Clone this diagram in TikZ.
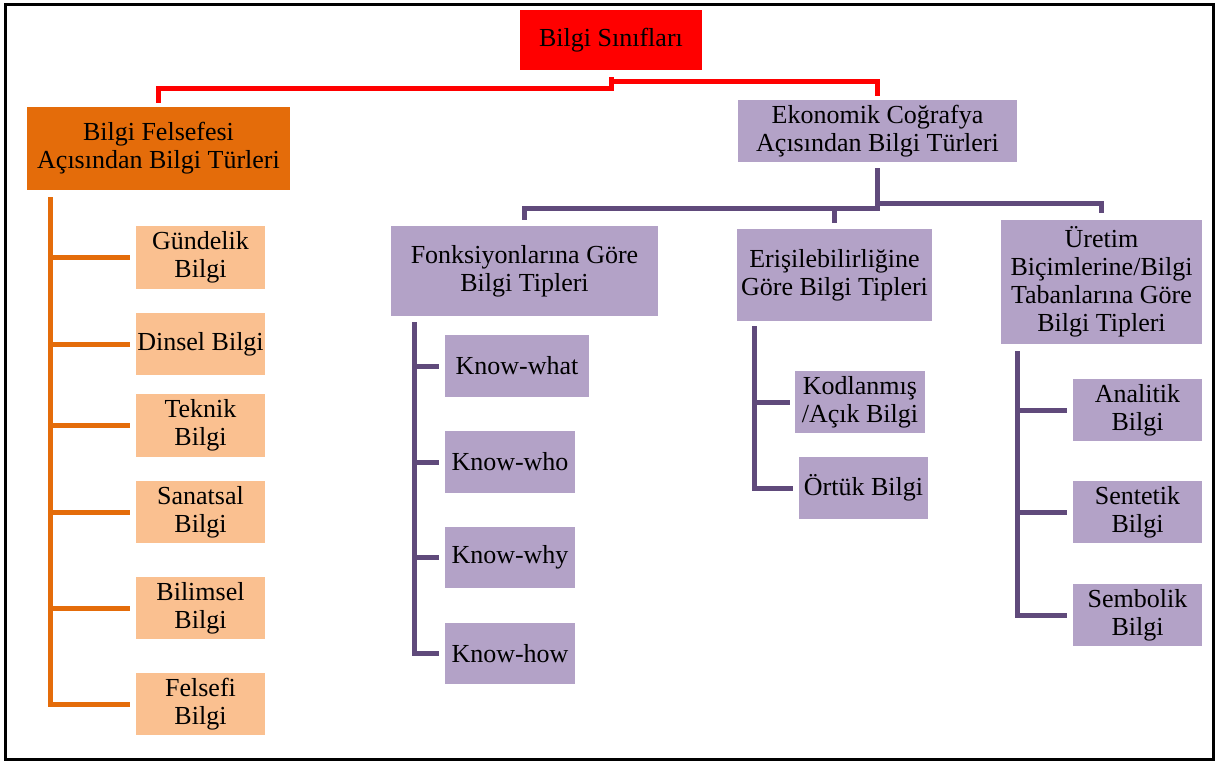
\documentclass[tikz,border=0pt]{standalone}
\usepackage{fontspec}
\setmainfont{Liberation Serif}
\usetikzlibrary{calc}
\definecolor{cred}{HTML}{FF0000}
\definecolor{corange}{HTML}{E46C0A}
\definecolor{cpeach}{HTML}{FAC090}
\definecolor{clav}{HTML}{B3A2C7}
\definecolor{cpurp}{HTML}{604A7B}
\tikzset{
  bx/.style={rectangle, inner sep=0pt, align=center, font=\fontsize{26}{28}\selectfont, text=black},
  redline/.style={draw=cred, line width=5pt},
  orline/.style={draw=corange, line width=5pt},
  purline/.style={draw=cpurp, line width=5pt},
}
\begin{document}
\begin{tikzpicture}[x=1pt,y=-1pt]
\useasboundingbox (0,0) rectangle (1219,763);
\fill[white] (0,0) rectangle (1219,763);
\draw[black, line width=3pt] (5.5,4.5) rectangle (1213,759);

% top level
\node[bx, fill=cred, minimum width=182, minimum height=60] (root) at (611,40) {Bilgi Sınıfları};
\node[bx, fill=corange, minimum width=263, minimum height=83] (bfel) at (158.5,148.5) {Bilgi Felsefesi\\Açısından Bilgi Türleri};
\node[bx, fill=clav, minimum width=279, minimum height=62] (eko) at (877.5,131) {Ekonomik Coğrafya\\Açısından Bilgi Türleri};

% left children
\node[bx, fill=cpeach, minimum width=129, minimum height=63] (gund) at (200.5,257.5) {Gündelik\\Bilgi};
\node[bx, fill=cpeach, minimum width=129, minimum height=62] (dins) at (200.5,344) {Dinsel Bilgi};
\node[bx, fill=cpeach, minimum width=129, minimum height=63] (tekn) at (200.5,425.5) {Teknik\\Bilgi};
\node[bx, fill=cpeach, minimum width=129, minimum height=62] (sana) at (200.5,512) {Sanatsal\\Bilgi};
\node[bx, fill=cpeach, minimum width=129, minimum height=62] (bili) at (200.5,608) {Bilimsel\\Bilgi};
\node[bx, fill=cpeach, minimum width=129, minimum height=62] (fels) at (200.5,704) {Felsefi\\Bilgi};

% second level right
\node[bx, fill=clav, minimum width=267, minimum height=90] (fonk) at (524.5,271) {Fonksiyonlarına Göre\\Bilgi Tipleri};
\node[bx, fill=clav, minimum width=195, minimum height=92] (eris) at (834.5,275) {Erişilebilirliğine\\Göre Bilgi Tipleri};
\node[bx, fill=clav, minimum width=201, minimum height=124] (uret) at (1101.5,282) {Üretim\\Biçimlerine/Bilgi\\Tabanlarına Göre\\Bilgi Tipleri};

% know boxes
\node[bx, fill=clav, minimum width=144, minimum height=62] (kw1) at (517,366) {Know-what};
\node[bx, fill=clav, minimum width=130, minimum height=62] (kw2) at (510,462) {Know-who};
\node[bx, fill=clav, minimum width=130, minimum height=61] (kw3) at (510,557.5) {Know-why};
\node[bx, fill=clav, minimum width=130, minimum height=61] (kw4) at (510,653.5) {Know-how};

% erisilebilirlik
\node[bx, fill=clav, minimum width=130, minimum height=62] (kod) at (860,402) {Kodlanmış\\/Açık Bilgi};
\node[bx, fill=clav, minimum width=129, minimum height=62] (ortu) at (863.5,488) {Örtük Bilgi};

% uretim
\node[bx, fill=clav, minimum width=129, minimum height=62] (anal) at (1137.5,410) {Analitik\\Bilgi};
\node[bx, fill=clav, minimum width=129, minimum height=62] (sent) at (1137.5,512) {Sentetik\\Bilgi};
\node[bx, fill=clav, minimum width=129, minimum height=62] (semb) at (1137.5,615) {Sembolik\\Bilgi};

% red connectors
\draw[redline] ($(root.south)+(0.5,7)$) -- ++(0,11) -| ($(bfel.north)+(0,-4)$);
\draw[redline] ($(root.south)+(0.5,7)$) -- ++(0,4) -| ($(eko.north)+(0,-4)$);

% purple connectors from eko
\draw[purline] ($(eko.south)+(0,6)$) -- ++(0,40) -| ($(fonk.north)+(0,-6)$);
\draw[purline] ($(eko.south)+(0,46)$) -| ($(eris.north)+(0,-6)$);
\draw[purline] ($(eko.south)+(0,6)$) -- ++(0,35) -| ($(uret.north)+(0,-7)$);

% orange bracket
\coordinate (ot) at ($(bfel.south west)+(24,7)$);
\draw[orline] (ot) |- ($(fels.west)+(-6,0)$);
\foreach \c in {gund,dins,tekn,sana,bili}{
  \draw[orline] (ot |- \c.west) -- ($(\c.west)+(-6,0)$);
}

% fonk bracket
\coordinate (ft) at ($(fonk.south west)+(24,6)$);
\draw[purline] (ft) |- ($(kw4.west)+(-6,0)$);
\foreach \c in {kw1,kw2,kw3}{
  \draw[purline] (ft |- \c.west) -- ($(\c.west)+(-6,0)$);
}

% eris bracket
\coordinate (et) at ($(eris.south west)+(18,5)$);
\draw[purline] (et) |- ($(ortu.west)+(-6,0)$);
\draw[purline] (et |- kod.west) -- ($(kod.west)+(-5,0)$);

% uretim bracket
\coordinate (ut) at ($(uret.south west)+(17,7)$);
\draw[purline] (ut) |- ($(semb.west)+(-6,0)$);
\foreach \c in {anal,sent}{
  \draw[purline] (ut |- \c.west) -- ($(\c.west)+(-6,0)$);
}
\end{tikzpicture}
\end{document}
